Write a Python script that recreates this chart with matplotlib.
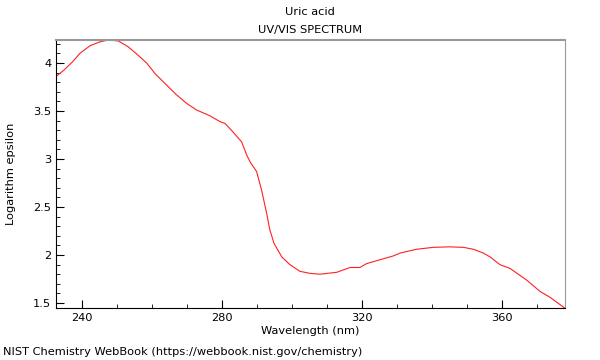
import matplotlib
matplotlib.use("Agg")
import matplotlib.pyplot as plt
from matplotlib.ticker import MultipleLocator

# Spectrum
wavelength = [232.6, 235.0, 237.5, 239.4, 242.3, 245.1, 247.5, 250.4, 253.2, 256.1,
              258.5, 260.9, 264.2, 267.0, 269.9, 272.8, 276.6, 279.4, 280.9, 283.2,
              285.6, 287.1, 288.2, 289.9, 291.3, 292.8, 293.7, 294.9, 297.1, 299.4,
              302.3, 305.0, 308.0, 312.8, 316.6, 319.4, 321.3, 325.1, 328.9, 330.9,
              335.6, 340.4, 345.0, 349.0, 351.8, 354.7, 356.6, 359.4, 362.3, 367.0,
              370.9, 373.7, 378.0]
log_eps = [3.86, 3.93, 4.02, 4.10, 4.18, 4.22, 4.24, 4.23, 4.17, 4.08,
           4.00, 3.89, 3.77, 3.67, 3.58, 3.51, 3.45, 3.39, 3.37, 3.28,
           3.18, 3.04, 2.96, 2.87, 2.68, 2.43, 2.26, 2.12, 1.98, 1.90,
           1.83, 1.81, 1.80, 1.82, 1.87, 1.87, 1.91, 1.95, 1.99, 2.02,
           2.06, 2.08, 2.085, 2.08, 2.06, 2.02, 1.98, 1.90, 1.86, 1.74,
           1.62, 1.56, 1.445]

fig = plt.figure(figsize=(6, 3.6), dpi=100)
ax = fig.add_axes([56 / 600, 52 / 360, 509 / 600, 268 / 360])

ax.plot(wavelength, log_eps, color="#ff2020", lw=0.8)

ax.set_xlim(232.6, 378.0)
ax.set_ylim(1.448, 4.24)
ax.xaxis.set_major_locator(MultipleLocator(40))
ax.xaxis.set_minor_locator(MultipleLocator(10))
ax.yaxis.set_major_locator(MultipleLocator(0.5))
ax.yaxis.set_minor_locator(MultipleLocator(0.1))
ax.yaxis.set_major_formatter(plt.FuncFormatter(lambda v, p: f"{v:g}"))
ax.tick_params(which="both", direction="in", labelsize=8.2, top=False, right=False)
ax.tick_params(which="major", length=6)
ax.tick_params(which="minor", length=3)

for s in ["top", "right"]:
    ax.spines[s].set_color("#999999")
ax.spines["top"].set_linewidth(1.5)

ax.set_xlabel("Wavelength (nm)", fontsize=8.2, labelpad=2)
ax.set_ylabel("Logarithm epsilon", fontsize=8.2)
ax.yaxis.set_label_coords(-40 / 509, 0.5)
fig.text(310 / 600, 1 - 12 / 360, "Uric acid", ha="center", va="center", fontsize=8.2)
fig.text(310 / 600, 1 - 30 / 360, "UV/VIS SPECTRUM", ha="center", va="center", fontsize=8.2)
fig.text(3 / 600, 1 - 352 / 360, "NIST Chemistry WebBook (https://webbook.nist.gov/chemistry)",
         ha="left", va="center", fontsize=8.2)

fig.savefig("out.png", dpi=100)
